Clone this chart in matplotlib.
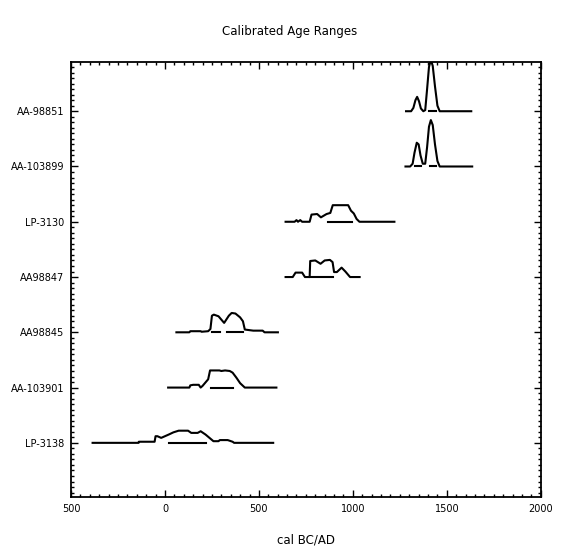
import numpy as np
import matplotlib.pyplot as plt
from matplotlib.ticker import MultipleLocator

samples = ['LP-3138', 'AA-103901', 'AA98845', 'AA98847', 'LP-3130', 'AA-103899', 'AA-98851']

# probability curves: (years, relative heights)
lp3138_x = [-385, -140, -139, -55, -50, -40, -20, 20, 45, 73, 123, 140, 174, 190, 216, 258, 285, 292, 334, 360, 368, 576]
lp3138_y = [0, 0, 0.02, 0.02, 0.12, 0.12, 0.09, 0.15, 0.19, 0.22, 0.22, 0.18, 0.18, 0.21, 0.15, 0.03, 0.03, 0.05, 0.05, 0.02, 0, 0]

aa103901_x = [17, 130, 135, 150, 180, 190, 200, 230, 240, 290, 300, 320, 345, 360, 380, 400, 425, 593]
aa103901_y = [0, 0, 0.04, 0.05, 0.05, 0, 0.03, 0.15, 0.31, 0.31, 0.30, 0.31, 0.30, 0.27, 0.18, 0.08, 0, 0]

aa98845_x = [61, 130, 135, 190, 195, 230, 242, 250, 260, 285, 315, 340, 355, 375, 400, 415, 425, 470, 520, 530, 601]
aa98845_y = [0, 0, 0.02, 0.02, 0.01, 0.02, 0.06, 0.30, 0.32, 0.29, 0.17, 0.30, 0.35, 0.34, 0.27, 0.20, 0.05, 0.03, 0.03, 0, 0]

aa98847_x = [642, 680, 695, 730, 745, 770, 773, 800, 828, 850, 878, 892, 900, 915, 940, 960, 985, 1036]
aa98847_y = [0, 0, 0.08, 0.08, 0, 0, 0.29, 0.30, 0.24, 0.30, 0.31, 0.27, 0.09, 0.09, 0.17, 0.10, 0, 0]

lp3130_x = [642, 690, 700, 708, 720, 730, 770, 780, 810, 830, 860, 880, 893, 975, 990, 1005, 1020, 1035, 1221]
lp3130_y = [0, 0, 0.03, 0, 0.03, 0, 0, 0.13, 0.14, 0.08, 0.14, 0.16, 0.30, 0.30, 0.20, 0.15, 0.05, 0, 0]

aa103899_x = [1280, 1305, 1318, 1328, 1340, 1350, 1360, 1372, 1385, 1395, 1405, 1415, 1425, 1437, 1450, 1462, 1635]
aa103899_y = [0, 0, 0.05, 0.25, 0.43, 0.40, 0.20, 0.05, 0.05, 0.35, 0.72, 0.84, 0.75, 0.40, 0.10, 0, 0]

aa98851_x = [1283, 1310, 1322, 1333, 1342, 1352, 1362, 1375, 1385, 1395, 1405, 1415, 1425, 1437, 1450, 1462, 1630]
aa98851_y = [0, 0, 0.06, 0.20, 0.26, 0.18, 0.05, 0, 0.02, 0.40, 0.80, 0.93, 0.82, 0.45, 0.10, 0, 0]

curves_x = [lp3138_x, aa103901_x, aa98845_x, aa98847_x, lp3130_x, aa103899_x, aa98851_x]
curves_y = [lp3138_y, aa103901_y, aa98845_y, aa98847_y, lp3130_y, aa103899_y, aa98851_y]

# calibrated ranges drawn as bars under each curve
ranges = [
    [(22, 216)],
    [(247, 363)],
    [(250, 292), (331, 415)],
    [(774, 895)],
    [(867, 997)],
    [(1333, 1362), (1408, 1445)],
    [(1405, 1445)],
]

xticks = [-500, 0, 500, 1000, 1500, 2000]
xtick_labels = ['500', '0', '500', '1000', '1500', '2000']

fig = plt.figure(figsize=(5.79, 5.49), dpi=100)
ax = fig.add_axes([0.1226, 0.0947, 0.8114, 0.7923])

for i, name in enumerate(samples):
    base = i + 1
    ax.plot(curves_x[i], np.array(curves_y[i]) + base, color='black', lw=1.5)
    for a, b in ranges[i]:
        ax.plot([a, b], [base, base], color='black', lw=1.5)

ax.set_xlim(-500, 2000)
ax.set_ylim(0.02, 7.89)
ax.set_xticks(xticks)
ax.set_xticklabels(xtick_labels, fontsize=7)
ax.set_yticks(range(1, len(samples) + 1))
ax.set_yticklabels(samples, fontsize=7)
ax.xaxis.set_minor_locator(MultipleLocator(50))
ax.yaxis.set_minor_locator(MultipleLocator(0.1))
ax.tick_params(which='both', direction='in', top=True, right=True, width=1)
ax.tick_params(which='major', length=5, pad=5)
ax.tick_params(which='minor', length=2.5)
for s in ax.spines.values():
    s.set_linewidth(1.3)

ax.set_xlabel('cal BC/AD', fontsize=8.5, labelpad=14)
fig.suptitle('Calibrated Age Ranges', fontsize=8.5, y=0.955)

fig.savefig('out.png', dpi=100)
